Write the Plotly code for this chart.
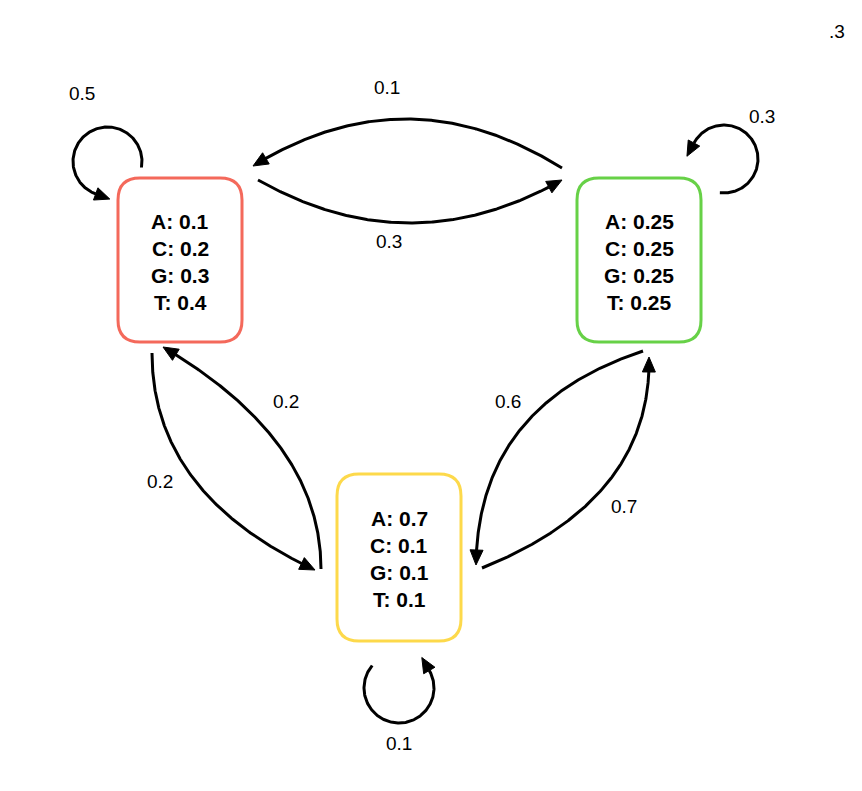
import numpy as np
import plotly.graph_objects as go

# --- DATA ---
STATES = ["S1", "S2", "S3"]
SYMBOLS = ["A", "C", "G", "T"]
EMIT_S1 = [0.1, 0.2, 0.3, 0.4]
EMIT_S2 = [0.25, 0.25, 0.25, 0.25]
EMIT_S3 = [0.7, 0.1, 0.1, 0.1]
# transition probabilities, row = from, column = to
TRANS_S1 = [0.5, 0.3, 0.2]
TRANS_S2 = [0.1, 0.3, 0.6]
TRANS_S3 = [0.2, 0.7, 0.1]
STRAY_LABEL = ".3"

# --- LAYOUT (pixel space of the page) ---
W, H = 862, 791
PAD = 8  # browser body margin, figure is shrunk so page pixels == data units
FONT = "Liberation Sans, Arial, Helvetica, sans-serif"
BOX = {  # x0, y0, x1, y1, colour
    "S1": (118, 178, 242, 342, "#F4695B"),
    "S2": (577, 178, 701, 342, "#67D147"),
    "S3": (337, 474, 461, 641, "#FDD94B"),
}
TEXT_Y0 = {"S1": 221, "S2": 221, "S3": 518}
LINE_GAP = 27
# bezier edges: start, control, arrow tip, label position
EDGES = {
    ("S1", "S2"): ((258, 180), (410, 266), (562, 180), (389, 241)),
    ("S2", "S1"): ((562, 168), (407, 71), (253, 166), (387, 87)),
    ("S1", "S3"): ((152, 353), (152, 494), (315, 570), (160, 481)),
    ("S3", "S1"): ((321, 569), (321, 440), (163, 347), (286, 401)),
    ("S2", "S3"): ((643, 351), (478, 405), (476, 565), (508, 401)),
    ("S3", "S2"): ((482, 568), (652, 500), (649, 357), (624, 506)),
}
# self loops: centre, radius, start angle, end angle (deg, screen), label position
LOOPS = {
    "S1": ((107.5, 161.5), 34.5, 10, -250, (82, 93)),
    "S2": ((724, 159), 34, 97, -152, (762, 116)),
    "S3": ((399, 688), 35, 220, -30, (399, 743)),
}
ARROW_LEN, ARROW_W, LW = 15, 13, 3


def arrow_head(tip, d):
    tip = np.array(tip, float)
    n = np.array([-d[1], d[0]])
    base = tip - ARROW_LEN * d
    pts = [tip, base + n * ARROW_W / 2, base - n * ARROW_W / 2, tip]
    return go.Scatter(x=[p[0] for p in pts], y=[p[1] for p in pts], mode="lines",
                      fill="toself", fillcolor="black", line=dict(color="black", width=1),
                      hoverinfo="skip", showlegend=False)


def bezier_edge(p0, c, p2):
    t = np.linspace(0, 1, 300)[:, None]
    p0, c, p2 = np.array(p0, float), np.array(c, float), np.array(p2, float)
    pts = (1 - t) ** 2 * p0 + 2 * (1 - t) * t * c + t ** 2 * p2
    dist = np.linalg.norm(pts - p2, axis=1)
    idx = np.where(dist < ARROW_LEN - 1)[0][0]
    line_pts = pts[:idx]
    d = (p2 - line_pts[-1]) / np.linalg.norm(p2 - line_pts[-1])
    line = go.Scatter(x=line_pts[:, 0], y=line_pts[:, 1], mode="lines",
                      line=dict(color="black", width=LW), hoverinfo="skip", showlegend=False)
    return [line, arrow_head(p2, d)]


def loop_edge(centre, r, a0, a1):
    a = np.radians(np.linspace(a0, a1, 200))
    x = centre[0] + r * np.cos(a)
    y = centre[1] + r * np.sin(a)
    end = np.radians(a1)
    d = np.array([np.sin(end), -np.cos(end)])
    tip = (x[-1] + ARROW_LEN * d[0], y[-1] + ARROW_LEN * d[1])
    line = go.Scatter(x=x, y=y, mode="lines", line=dict(color="black", width=LW),
                      hoverinfo="skip", showlegend=False)
    return [line, arrow_head(tip, d)]


def rounded_rect(x0, y0, x1, y1, r=22):
    return (f"M {x0+r},{y0} L {x1-r},{y0} Q {x1},{y0} {x1},{y0+r} L {x1},{y1-r} "
            f"Q {x1},{y1} {x1-r},{y1} L {x0+r},{y1} Q {x0},{y1} {x0},{y1-r} "
            f"L {x0},{y0+r} Q {x0},{y0} {x0+r},{y0} Z")


emissions = dict(zip(STATES, [EMIT_S1, EMIT_S2, EMIT_S3]))
trans = dict(zip(STATES, [TRANS_S1, TRANS_S2, TRANS_S3]))
label_font = dict(size=19, color="black", family=FONT)

fig = go.Figure()
annotations = []
shapes = []

for s in STATES:
    x0, y0, x1, y1, col = BOX[s]
    shapes.append(dict(type="path", path=rounded_rect(x0, y0, x1, y1), xref="x", yref="y",
                       line=dict(color=col, width=3), fillcolor="white", layer="below"))
    for i, (sym, p) in enumerate(zip(SYMBOLS, emissions[s])):
        annotations.append(dict(x=(x0 + x1) / 2, y=TEXT_Y0[s] + i * LINE_GAP, text=f"<b>{sym}: {p}</b>",
                                showarrow=False, font=dict(size=21, color="black", family=FONT)))

for (a, b), (p0, c, p2, lab) in EDGES.items():
    fig.add_traces(bezier_edge(p0, c, p2))
    annotations.append(dict(x=lab[0], y=lab[1], text=str(trans[a][STATES.index(b)]),
                            showarrow=False, font=label_font))

for s, (centre, r, a0, a1, lab) in LOOPS.items():
    fig.add_traces(loop_edge(centre, r, a0, a1))
    annotations.append(dict(x=lab[0], y=lab[1], text=str(trans[s][STATES.index(s)]),
                            showarrow=False, font=label_font))

annotations.append(dict(x=837, y=31, text=STRAY_LABEL, showarrow=False, font=label_font))

fig.update_layout(
    width=W - 2 * PAD, height=H - 2 * PAD,
    margin=dict(l=0, r=0, t=0, b=0),
    xaxis=dict(range=[PAD, W - PAD], visible=False, fixedrange=True),
    yaxis=dict(range=[H - PAD, PAD], visible=False, fixedrange=True),
    paper_bgcolor="white", plot_bgcolor="white",
    showlegend=False,
    shapes=shapes,
    annotations=annotations,
)

fig.write_html("out.html")
